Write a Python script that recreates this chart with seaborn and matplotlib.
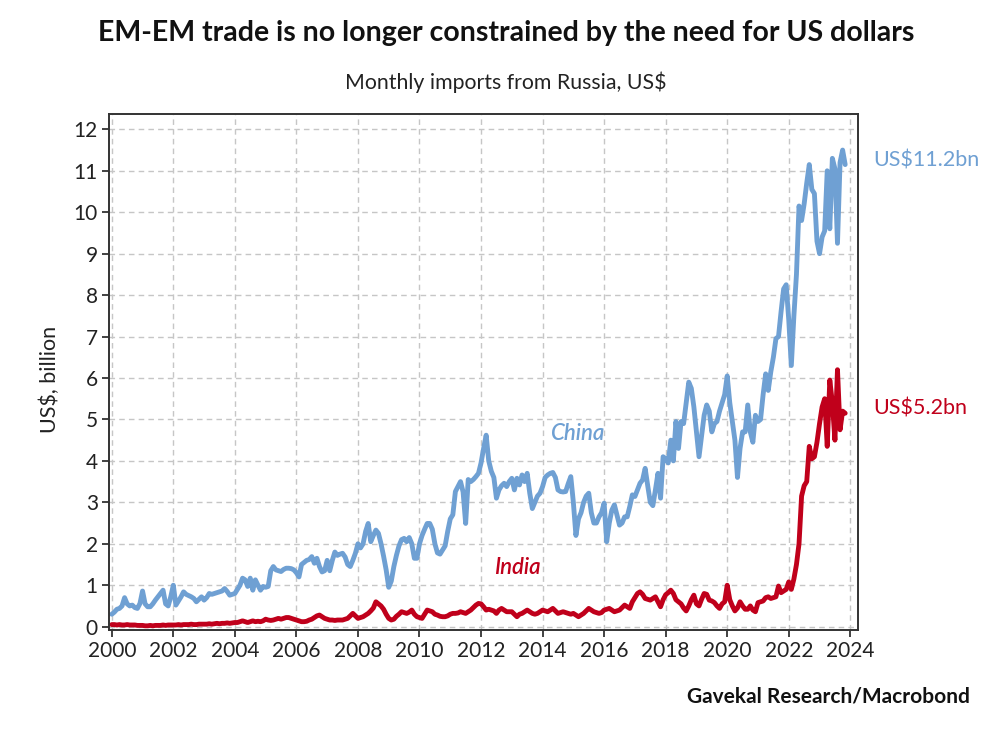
import numpy as np
import pandas as pd
import matplotlib
matplotlib.use("Agg")
import matplotlib.pyplot as plt
import seaborn as sns

# ---------------- data (US$ bn, monthly, Jan-2000 .. Nov-2023) ----------------
china_2000_2005 = [
    0.30, 0.35, 0.42, 0.44, 0.50, 0.70, 0.55, 0.50, 0.52, 0.46, 0.44, 0.56,
    0.86, 0.55, 0.48, 0.48, 0.55, 0.64, 0.72, 0.80, 0.88, 0.55, 0.50, 0.72,
    1.00, 0.52, 0.62, 0.72, 0.84, 0.78, 0.75, 0.72, 0.68, 0.60, 0.66, 0.72,
    0.64, 0.70, 0.80, 0.78, 0.80, 0.82, 0.84, 0.86, 0.92, 0.85, 0.76, 0.78,
    0.80, 0.90, 1.00, 1.17, 1.13, 0.97, 1.17, 0.88, 1.13, 1.00, 0.88, 0.97,
    0.95, 0.97, 1.35, 1.45, 1.37, 1.35, 1.33, 1.38, 1.41, 1.41, 1.40, 1.37,
]
china_2006_2011 = [
    1.30, 1.20, 1.50, 1.55, 1.60, 1.62, 1.69, 1.53, 1.65, 1.45, 1.32, 1.35,
    1.60, 1.35, 1.60, 1.80, 1.72, 1.75, 1.77, 1.68, 1.50, 1.45, 1.60, 1.77,
    2.00, 1.90, 2.00, 2.30, 2.49, 2.05, 2.20, 2.33, 2.25, 2.00, 1.70, 1.37,
    0.95, 1.10, 1.45, 1.72, 1.95, 2.10, 2.13, 2.05, 2.15, 2.00, 1.65, 1.65,
    2.00, 2.20, 2.35, 2.49, 2.49, 2.35, 2.00, 1.78, 1.75, 1.85, 1.95, 2.30,
    2.60, 2.70, 3.26, 3.38, 3.50, 3.25, 2.49, 3.55, 3.50, 3.55, 3.62, 3.70,
]
china_2012_2017 = [
    3.95, 4.30, 4.62, 4.00, 3.75, 3.60, 3.10, 3.30, 3.40, 3.46, 3.38, 3.50,
    3.58, 3.30, 3.58, 3.42, 3.66, 3.50, 3.70, 3.22, 2.85, 3.00, 3.15, 3.22,
    3.38, 3.60, 3.66, 3.70, 3.72, 3.60, 3.30, 3.26, 3.25, 3.26, 3.45, 3.62,
    3.00, 2.20, 2.60, 2.75, 3.00, 3.15, 3.22, 2.75, 2.50, 2.50, 2.65, 2.75,
    2.98, 2.05, 2.50, 2.81, 2.94, 2.70, 2.45, 2.50, 2.65, 2.65, 2.90, 3.18,
    3.14, 3.30, 3.46, 3.54, 3.82, 3.40, 3.00, 2.92, 3.30, 3.70, 3.10, 4.10,
]
china_2018_2023 = [
    4.05, 3.95, 4.50, 4.00, 4.95, 4.30, 4.95, 4.90, 5.40, 5.90, 5.75, 5.30,
    4.70, 4.10, 4.60, 5.10, 5.35, 5.20, 4.70, 4.90, 4.95, 5.20, 5.40, 5.60,
    6.05, 5.40, 4.95, 4.50, 3.60, 4.30, 4.70, 4.70, 5.35, 4.70, 4.45, 5.10,
    4.95, 5.00, 5.60, 6.10, 5.70, 6.15, 6.50, 6.95, 7.00, 7.60, 8.15, 8.25,
    7.40, 6.30, 7.50, 8.50, 10.15, 9.80, 10.20, 10.70, 11.15, 10.55, 10.45, 9.30,
    9.00, 9.40, 9.55, 11.00, 9.60, 11.30, 11.05, 9.25, 11.20, 11.50, 11.15,
]

india_2000_2005 = [
    0.05, 0.05, 0.04, 0.05, 0.04, 0.04, 0.05, 0.04, 0.04, 0.04, 0.03, 0.03,
    0.03, 0.02, 0.02, 0.03, 0.02, 0.03, 0.03, 0.03, 0.04, 0.03, 0.04, 0.04,
    0.04, 0.04, 0.05, 0.04, 0.05, 0.05, 0.05, 0.06, 0.05, 0.05, 0.06, 0.06,
    0.06, 0.06, 0.07, 0.06, 0.07, 0.08, 0.07, 0.08, 0.08, 0.09, 0.08, 0.09,
    0.10, 0.10, 0.12, 0.14, 0.12, 0.10, 0.12, 0.14, 0.12, 0.13, 0.12, 0.14,
    0.18, 0.16, 0.15, 0.16, 0.18, 0.20, 0.18, 0.20, 0.22, 0.22, 0.20, 0.18,
]
india_2006_2011 = [
    0.16, 0.14, 0.12, 0.12, 0.13, 0.16, 0.18, 0.22, 0.26, 0.28, 0.24, 0.20,
    0.18, 0.16, 0.16, 0.15, 0.16, 0.16, 0.16, 0.18, 0.20, 0.26, 0.32, 0.26,
    0.20, 0.22, 0.24, 0.28, 0.32, 0.38, 0.45, 0.60, 0.55, 0.50, 0.42, 0.30,
    0.20, 0.16, 0.18, 0.25, 0.30, 0.36, 0.34, 0.32, 0.35, 0.40, 0.30, 0.24,
    0.22, 0.20, 0.30, 0.40, 0.38, 0.36, 0.30, 0.28, 0.25, 0.24, 0.24, 0.26,
    0.30, 0.32, 0.32, 0.33, 0.36, 0.34, 0.32, 0.36, 0.40, 0.46, 0.52, 0.56,
]
india_2012_2017 = [
    0.55, 0.48, 0.40, 0.42, 0.40, 0.38, 0.32, 0.40, 0.44, 0.40, 0.36, 0.36,
    0.36, 0.30, 0.24, 0.30, 0.32, 0.36, 0.40, 0.36, 0.32, 0.30, 0.32, 0.36,
    0.40, 0.38, 0.36, 0.40, 0.44, 0.38, 0.32, 0.34, 0.36, 0.34, 0.32, 0.30,
    0.32, 0.28, 0.24, 0.28, 0.32, 0.38, 0.44, 0.40, 0.36, 0.34, 0.32, 0.34,
    0.40, 0.42, 0.44, 0.40, 0.36, 0.38, 0.40, 0.46, 0.52, 0.48, 0.44, 0.60,
    0.70, 0.80, 0.84, 0.78, 0.68, 0.66, 0.64, 0.68, 0.72, 0.60, 0.48, 0.65,
]
india_2018_2023 = [
    0.77, 0.82, 0.88, 0.80, 0.65, 0.60, 0.55, 0.45, 0.38, 0.50, 0.65, 0.76,
    0.55, 0.50, 0.66, 0.80, 0.78, 0.64, 0.62, 0.58, 0.50, 0.44, 0.55, 0.60,
    1.00, 0.65, 0.50, 0.38, 0.45, 0.60, 0.50, 0.42, 0.42, 0.50, 0.40, 0.36,
    0.58, 0.60, 0.62, 0.70, 0.72, 0.68, 0.70, 0.72, 0.98, 0.82, 0.86, 0.90,
    1.08, 0.90, 1.15, 1.50, 2.00, 3.15, 3.40, 3.50, 4.35, 4.05, 4.10, 4.45,
    4.90, 5.30, 5.50, 4.35, 5.95, 5.40, 4.50, 6.20, 4.75, 5.20, 5.15,
]

start_year = 2000
year_ticks = list(range(2000, 2025, 2))
value_ticks = list(range(0, 13))
label_china = "China"
label_india = "India"
end_label_china = "US$11.2bn"
end_label_india = "US$5.2bn"

# ---------------- build frame ----------------
china = china_2000_2005 + china_2006_2011 + china_2012_2017 + china_2018_2023
india = india_2000_2005 + india_2006_2011 + india_2012_2017 + india_2018_2023
t_china = start_year + np.arange(len(china)) / 12.0
t_india = start_year + np.arange(len(india)) / 12.0
df = pd.concat([
    pd.DataFrame({"t": t_china, "v": china, "country": label_china}),
    pd.DataFrame({"t": t_india, "v": india, "country": label_india}),
], ignore_index=True)

BLUE = "#6fa0d3"
RED = "#c0001b"

sns.set_theme(style="white")
plt.rcParams["font.family"] = ["Lato", "DejaVu Sans"]

fig = plt.figure(figsize=(10, 7.55), dpi=100)
ax = fig.add_axes([0.109, 0.1656, 0.749, 0.6834])

sns.lineplot(data=df, x="t", y="v", hue="country",
             palette={label_china: BLUE, label_india: RED},
             linewidth=3.5, legend=False, ax=ax, sort=False)

ax.set_xlim(1999.91, 2024.25)
ax.set_ylim(-0.08, 12.37)
ax.set_xticks(year_ticks)
ax.set_xticklabels([str(y) for y in year_ticks])
ax.set_yticks(value_ticks)
ax.set_xlabel("")
ax.set_ylabel("")
ax.grid(True, color="#c6c6c6", linestyle=(0, (4, 3)), linewidth=1.0)
ax.set_axisbelow(True)
for s in ax.spines.values():
    s.set_color("#333333")
    s.set_linewidth(1.4)
ax.tick_params(axis="both", which="major", direction="out", length=5,
               width=1.3, color="#333333", labelsize=15, labelcolor="#222222",
               left=True, bottom=True, pad=3)

ax.text(2015.14, 4.67, label_china, color=BLUE, fontsize=16, style="italic",
        fontweight="semibold", ha="center", va="center")
ax.text(2013.17, 1.42, label_india, color=RED, fontsize=16, style="italic",
        fontweight="semibold", ha="center", va="center")

fig.text(0.873, 0.788, end_label_china, color=BLUE, fontsize=15.5, ha="left", va="center")
fig.text(0.873, 0.4596, end_label_india, color=RED, fontsize=15.5, ha="left", va="center")

fig.text(0.506, 0.956, "EM-EM trade is no longer constrained by the need for US dollars",
         fontsize=20.5, fontweight="bold", ha="center", va="center", color="#111111")
fig.text(0.506, 0.891, "Monthly imports from Russia, US$", fontsize=15.3,
         ha="center", va="center", color="#222222")
fig.text(0.05, 0.497, "US$, billion", fontsize=15.5, rotation=90,
         ha="center", va="center", color="#222222")
fig.text(0.970, 0.077, "Gavekal Research/Macrobond", fontsize=15,
         fontweight="bold", ha="right", va="center", color="#111111")

fig.savefig("out.png", dpi=100, facecolor="white")
